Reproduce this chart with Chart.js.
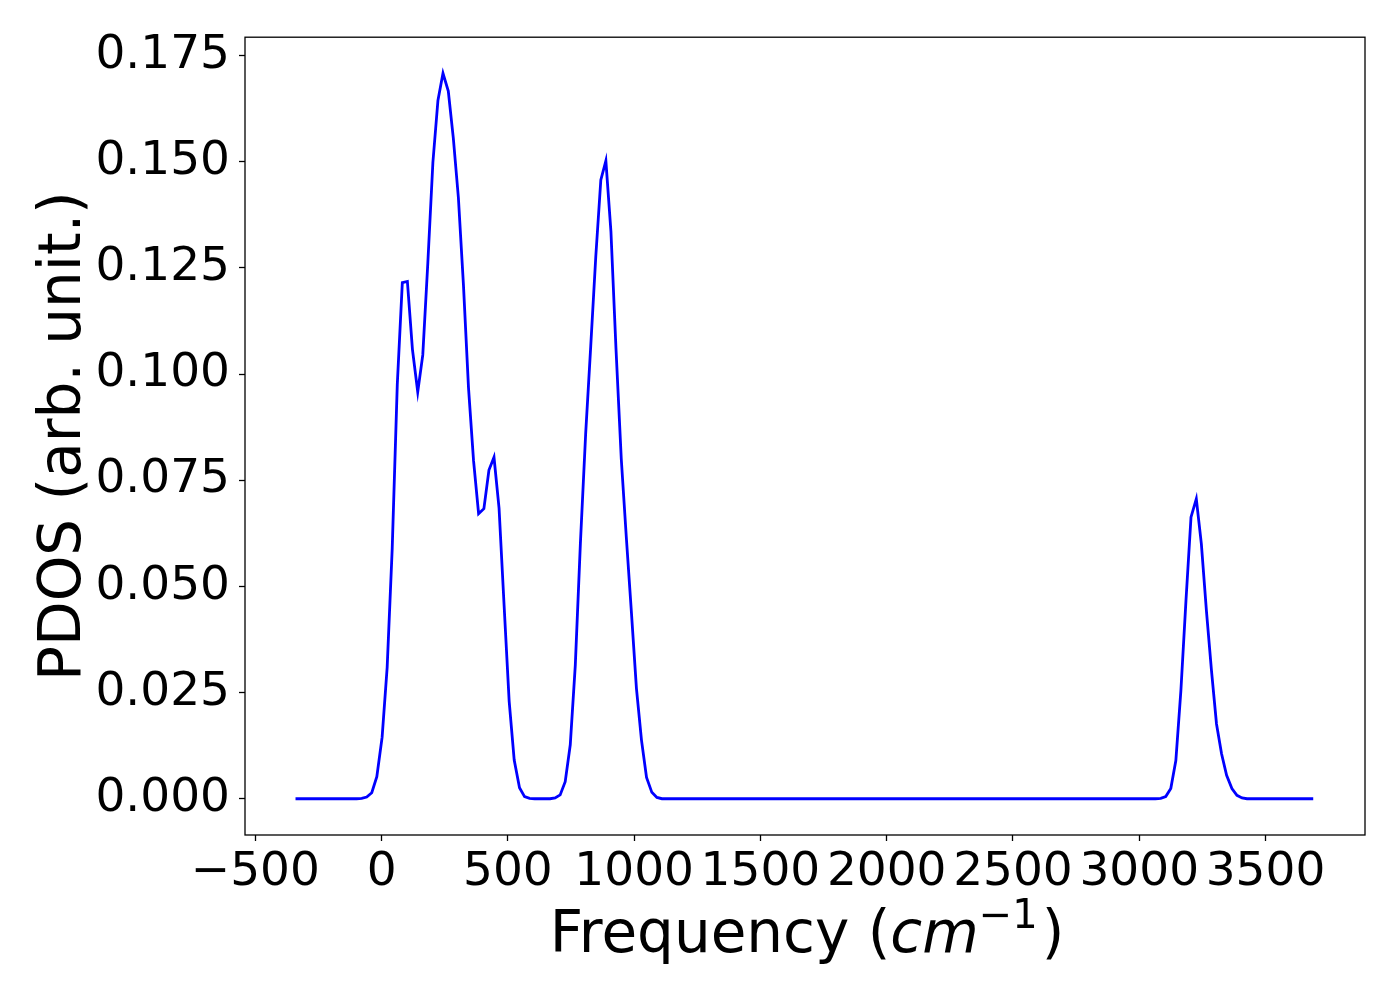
<!DOCTYPE html>
<html>
<head>
<meta charset="utf-8">
<title>PDOS</title>
<script src="https://cdn.jsdelivr.net/npm/chart.js@4.4.1/dist/chart.umd.min.js"></script>
<style>
  html, body { margin: 0; padding: 0; background: #ffffff; }
  #wrap { width: 1400px; height: 1000px; }
</style>
</head>
<body>
<div id="wrap"><canvas id="pdosChart" width="1400" height="1000"></canvas></div>
<script>
// frequências (cm^-1)
const freq = [
  -341, -99, -79, -59, -39, -19, 2, 22, 42, 62, 82, 102, 122, 143, 163, 183,
  203, 223, 243, 264, 284, 304, 324, 344, 364, 384, 405, 425, 445, 465, 485,
  505, 525, 546, 566, 586, 606, 667, 687, 707, 727, 747, 767, 787, 808, 828,
  848, 868, 888, 908, 928, 949, 969, 989, 1009, 1029, 1049, 1070, 1090, 1110,
  3064, 3085, 3105, 3125, 3145, 3165, 3185, 3205, 3226, 3246, 3266, 3286,
  3306, 3326, 3346, 3367, 3387, 3407, 3427, 3689
];

// PDOS (arb. unit.)
const pdos = [
  0, 0, 0.0001, 0.0004, 0.0014, 0.0052, 0.0145, 0.031, 0.059, 0.0975, 0.1215,
  0.1218, 0.1058, 0.0958, 0.1045, 0.1262, 0.1498, 0.1644, 0.1708, 0.1666,
  0.1555, 0.1415, 0.1210, 0.0968, 0.0796, 0.0671, 0.0683, 0.0774, 0.0804,
  0.0684, 0.0455, 0.0230, 0.0091, 0.0026, 0.0005, 0.0001, 0, 0, 0.0002,
  0.0009, 0.0040, 0.0127, 0.0315, 0.0600, 0.0860, 0.1065, 0.1276, 0.1457,
  0.1502, 0.1336, 0.1060, 0.0800, 0.0615, 0.0440, 0.0260, 0.0138, 0.0050,
  0.0015, 0.0003, 0,
  0, 0.0001, 0.0005, 0.0024, 0.0090, 0.0255, 0.0466, 0.0663, 0.0706, 0.0600,
  0.0443, 0.0302, 0.0176, 0.0106, 0.0055, 0.0024, 0.0008, 0.0002, 0, 0
];

const xTicks = [-500, 0, 500, 1000, 1500, 2000, 2500, 3000, 3500];
const yTicks = [0, 0.025, 0.05, 0.075, 0.1, 0.125, 0.15, 0.175];

const fonte = '"DejaVu Sans", "Liberation Sans", sans-serif';

// moldura em volta da área do gráfico + títulos dos eixos
const molduraPlugin = {
  id: 'moldura',
  afterDraw(chart) {
    const { ctx, chartArea } = chart;
    ctx.save();
    ctx.strokeStyle = '#000000';
    ctx.lineWidth = 1.3;
    ctx.strokeRect(chartArea.left, chartArea.top,
      chartArea.right - chartArea.left, chartArea.bottom - chartArea.top);

    ctx.fillStyle = '#000000';
    ctx.textBaseline = 'alphabetic';

    // eixo x: Frequency (cm^-1)
    const partes = [
      { t: 'Frequency (', f: '58px ' + fonte, dy: 0 },
      { t: 'cm', f: 'italic 58px ' + fonte, dy: 0 },
      { t: '\u22121', f: '40px ' + fonte, dy: -24 },
      { t: ')', f: '58px ' + fonte, dy: 0 }
    ];
    let total = 0;
    partes.forEach(p => { ctx.font = p.f; p.w = ctx.measureText(p.t).width; total += p.w; });
    let x = (chartArea.left + chartArea.right) / 2 - total / 2;
    const baseX = 952;
    partes.forEach(p => {
      ctx.font = p.f;
      ctx.textAlign = 'left';
      ctx.fillText(p.t, x, baseX + p.dy);
      x += p.w + (p.t === '\u22121' ? 4 : 0);
    });

    // eixo y
    ctx.translate(80, (chartArea.top + chartArea.bottom) / 2);
    ctx.rotate(-Math.PI / 2);
    ctx.font = '58px ' + fonte;
    ctx.textAlign = 'center';
    ctx.fillText('PDOS (arb. unit.)', 0, 0);
    ctx.restore();
  }
};

function criarGrafico() {
  const ctx = document.getElementById('pdosChart').getContext('2d');
  const pontos = freq.map((f, i) => ({ x: f, y: pdos[i] }));

  new Chart(ctx, {
    type: 'line',
    data: {
      datasets: [{
        data: pontos,
        borderColor: '#0000ff',
        borderWidth: 2.8,
        pointRadius: 0,
        tension: 0,
        fill: false
      }]
    },
    options: {
      responsive: false,
      animation: false,
      devicePixelRatio: 1,
      layout: { padding: { left: 0, top: 37, right: 35, bottom: 0 } },
      plugins: {
        legend: { display: false },
        tooltip: { enabled: false }
      },
      scales: {
        x: {
          type: 'linear',
          min: -541,
          max: 3894,
          afterFit: scale => { scale.height = 165; },
          afterBuildTicks: scale => { scale.ticks = xTicks.map(v => ({ value: v })); },
          border: { display: false },
          grid: { drawOnChartArea: false, drawTicks: true, tickLength: 6, tickWidth: 1.3, tickColor: '#000000' },
          ticks: {
            color: '#000000',
            font: { family: fonte, size: 47 },
            padding: 4,
            maxRotation: 0,
            autoSkip: false,
            callback: v => v < 0 ? '\u2212' + Math.abs(v) : String(v)
          }
        },
        y: {
          type: 'linear',
          min: -0.00854,
          max: 0.1793,
          afterFit: scale => { scale.width = 245; },
          afterBuildTicks: scale => { scale.ticks = yTicks.map(v => ({ value: v })); },
          border: { display: false },
          grid: { drawOnChartArea: false, drawTicks: true, tickLength: 6, tickWidth: 1.3, tickColor: '#000000' },
          ticks: {
            color: '#000000',
            font: { family: fonte, size: 47 },
            padding: 9,
            autoSkip: false,
            callback: v => v.toFixed(3)
          }
        }
      }
    },
    plugins: [molduraPlugin]
  });
}

document.addEventListener('DOMContentLoaded', criarGrafico);
</script>
</body>
</html>
